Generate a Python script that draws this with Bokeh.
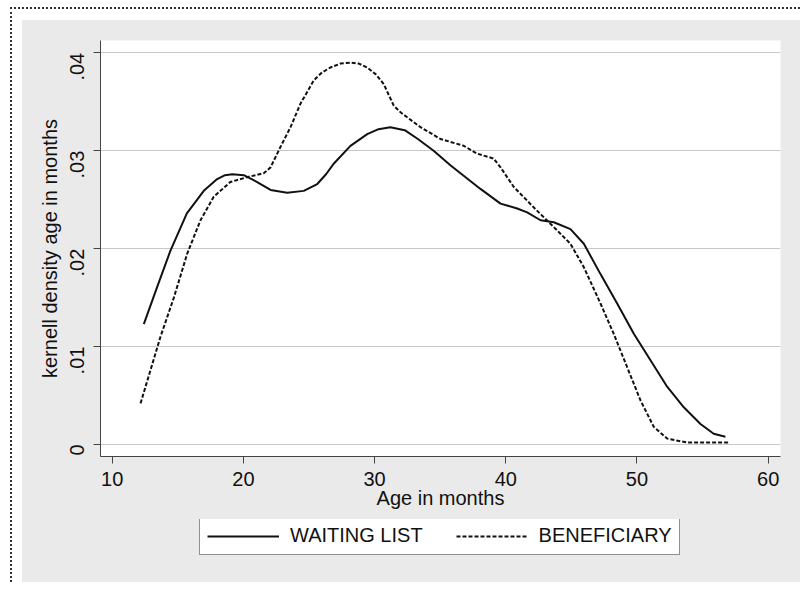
import math
from bokeh.plotting import figure
from bokeh.models import Legend, LegendItem, FixedTicker, Range1d
from bokeh.layouts import column
from bokeh.embed import file_html
from bokeh.resources import INLINE

# ---- data ----
wl_age = [12.41, 13.43, 14.44, 15.69, 16.98, 18.0, 18.6, 19.15, 20.03, 21.05, 22.07,
          23.34, 24.6, 25.63, 26.3, 26.9, 28.16, 29.44, 30.3, 31.2, 32.3, 33.3, 34.5, 35.8,
          36.55, 38.07, 39.6, 40.87, 41.63, 42.65, 43.66, 44.93, 45.95, 47.22,
          48.49, 49.76, 51.03, 52.3, 53.57, 54.84, 55.85, 56.74]
wl_dens = [.0123, .0161, .0198, .0236, .0259, .0271, .0275, .0276, .0275, .0268, .0260,
           .0257, .0259, .0266, .0276, .0287, .0305, .0317, .0322, .0324, .0321, .0312, .0300, .0285,
           .0277, .0261, .0246, .0241, .0237, .0229, .0227, .0220, .0205, .0174,
           .0144, .0113, .0086, .0059, .0038, .0021, .0011, .0008]

ben_age = [12.16, 13.68, 14.7, 15.72, 16.73, 17.74, 19.0, 20.29, 21.55, 22.07,
           22.83, 23.59, 24.35, 25.37, 26.0, 26.64, 27.4, 28.16, 28.8, 29.44, 30.1, 30.7,
           31.46, 32.0, 33.5, 35.02, 36.8, 37.82, 39.08, 39.6, 40.61, 42.14, 43.66, 44.93,
           45.95, 47.22, 48.23, 49.25, 50.27, 51.28, 52.3, 53.83, 57.1]
ben_dens = [.0042, .0110, .0150, .0195, .0229, .0253, .0268, .0273, .0277, .0283,
            .0304, .0324, .0348, .0372, .0380, .0385, .0389, .0390, .0389, .0385, .0378, .0368,
            .0346, .0339, .0324, .0312, .0305, .0297, .0292, .0283, .0263, .0242, .0222, .0205,
            .0181, .0144, .0113, .0079, .0045, .0018, .0006, .0002, .0002]

x_ticks = [10, 20, 30, 40, 50, 60]
y_ticks = [0, 0.01, 0.02, 0.03, 0.04]
y_tick_labels = ["0", ".01", ".02", ".03", ".04"]
series_names = ["WAITING LIST", "BENEFICIARY"]

FONT = "Liberation Sans"
INK = "#111111"
BG = "#eaeaea"

# ---- main plot ----
p = figure(frame_width=680, frame_height=416, output_backend="svg", toolbar_location=None,
           x_range=Range1d(9.108, 60.94), y_range=Range1d(-0.001226, 0.041256))
p.min_border_left = 78
p.min_border_top = 20
p.min_border_right = 20
p.min_border_bottom = 63
p.border_fill_color = BG
p.background_fill_color = "white"
p.outline_line_color = None

p.line(wl_age, wl_dens, line_color=INK, line_width=2)
p.line(ben_age, ben_dens, line_color=INK, line_width=2, line_dash="4 2")

for ax in (p.xaxis[0], p.yaxis[0]):
    ax.axis_line_color = "#444444"
    ax.major_tick_line_color = "#444444"
    ax.major_tick_out = 7
    ax.major_tick_in = 0
    ax.minor_tick_line_color = None
    ax.major_label_text_font = FONT
    ax.major_label_text_font_size = "20px"
    ax.major_label_text_color = INK
    ax.axis_label_text_font = FONT
    ax.axis_label_text_font_size = "20px"
    ax.axis_label_text_font_style = "normal"
    ax.axis_label_text_color = INK

p.xaxis.ticker = FixedTicker(ticks=x_ticks)
p.xaxis.major_label_standoff = 8
p.xaxis.axis_label = "Age in months"
p.xaxis.axis_label_standoff = -2

p.yaxis.ticker = FixedTicker(ticks=y_ticks)
p.yaxis.major_label_overrides = {t: l for t, l in zip(y_ticks, y_tick_labels)}
p.yaxis.major_label_orientation = math.pi / 2
p.yaxis.major_label_standoff = 16
p.yaxis.axis_label = "kernell density age in months"
p.yaxis.axis_label_standoff = 0

p.xgrid.grid_line_color = None
p.ygrid.grid_line_color = "#c8c8c8"
p.ygrid.grid_line_width = 1
p.ygrid.ticker = FixedTicker(ticks=y_ticks)

# ---- legend strip below the main plot (same frame geometry, grey frame) ----
p2 = figure(frame_width=680, frame_height=63, output_backend="svg", toolbar_location=None,
            x_range=Range1d(0, 1), y_range=Range1d(0, 1))
p2.min_border_left = 78
p2.min_border_right = 20
p2.min_border_top = 0
p2.min_border_bottom = 0
p2.border_fill_color = BG
p2.background_fill_color = BG
p2.outline_line_color = None
p2.axis.visible = False
p2.grid.visible = False

# legend proxies (kept outside the visible range; only their styles are used)
k1 = p2.line([-5, -4], [-5, -5], line_color=INK, line_width=2)
k2 = p2.line([-5, -4], [-5, -5], line_color=INK, line_width=2, line_dash="4 2")

legend = Legend(items=[LegendItem(label=series_names[0], renderers=[k1]),
                       LegendItem(label=series_names[1], renderers=[k2])],
                orientation="horizontal", location=(99, 27))
legend.label_text_font = FONT
legend.label_text_font_size = "20px"
legend.label_text_color = INK
legend.glyph_width = 72
legend.glyph_height = 22
legend.label_height = 22
legend.label_standoff = 11
legend.spacing = 33
legend.padding = 7
legend.margin = 0
legend.border_line_color = "#222222"
legend.border_line_width = 1
legend.background_fill_color = "white"
legend.background_fill_alpha = 1.0
p2.add_layout(legend, "center")

inner = column(p, p2, spacing=0, margin=(11, 0, 0, 10),
               styles={"background-color": BG})
layout = column(inner, margin=(7, 0, 0, 10),
                styles={"border-top": "2px dotted #333333",
                        "border-left": "2px dotted #333333"})

open("out.html", "w").write(file_html(layout, INLINE))
